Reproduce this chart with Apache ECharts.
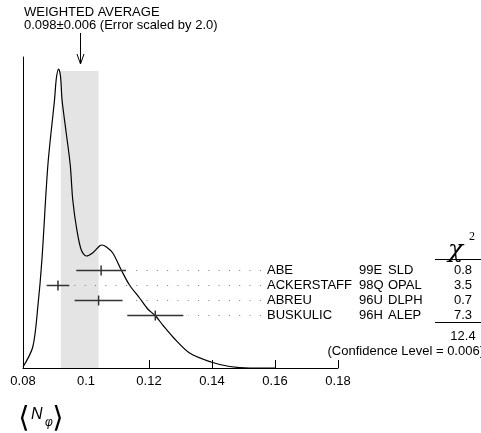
<!DOCTYPE html>
<html>
<head>
<meta charset="utf-8">
<script src="https://cdn.jsdelivr.net/npm/echarts@6/dist/echarts.min.js"></script>
<style>
html,body{margin:0;padding:0;background:#fff;}
#chart{width:481px;height:433px;}
</style>
</head>
<body>
<div id="chart"></div>
<script>
// ---- data ----
const xMin = 0.08, xMax = 0.18, xStep = 0.02;
const curveX = [0.0800,0.0831,0.0847,0.0860,0.0879,0.0900,0.0906,0.0913,0.0919,0.0924,0.0936,0.0950,0.0958,0.0971,0.0985,0.1001,0.1021,0.1043,0.1051,0.1065,0.1085,0.1112,0.1138,0.1170,0.1196,0.1221,0.1246,0.1276,0.1329,0.1397,0.1456,0.1519,0.1600];
const curveY = [1,21,61,108,203,268,290,299,292,268,238,203,168,138,118,112,115,122,123,121,115,98,83,70,59,52,42,31,15,6,1.5,0,0];
const names = ['ABE','ACKERSTAFF','ABREU','BUSKULIC'];
const refs = ['99E','98Q','96U','96H'];
const experiments = ['SLD','OPAL','DLPH','ALEP'];
const values = [0.1048, 0.0911, 0.1040, 0.1220];
const errors = [0.0079, 0.0036, 0.0076, 0.0089];
const chi2 = ['0.8','3.5','0.7','7.3'];
const chi2Sum = '12.4';
const confLevel = '0.006';
const avg = 0.098, avgErr = 0.006, errScale = 2.0;
const bandTop = 297;
const dotEndX = 0.1555;

const FONT = "'Liberation Sans', Arial, Helvetica, sans-serif";
const chart = echarts.init(document.getElementById('chart'), null, {renderer: 'canvas'});

const measData = values.map((v, i) => [v, errors[i], 14 + i]);

function renderBand(params, api) {
  const lo = api.coord([api.value(0) - api.value(1), 0]);
  const hi = api.coord([api.value(0) + api.value(1), api.value(2)]);
  const c = api.coord([api.value(0), 0]);
  const top = params.coordSys.y;
  const x = Math.round(c[0]) + 0.5;
  return {
    type: 'group',
    children: [
      {type: 'rect', shape: {x: lo[0], y: hi[1], width: hi[0] - lo[0], height: lo[1] - hi[1]},
       style: {fill: '#e4e4e4'}},
      {type: 'line', shape: {x1: x, y1: top - 24, x2: x, y2: top + 7},
       style: {stroke: '#000', lineWidth: 1}},
      {type: 'polyline', shape: {points: [[x - 3.5, top - 3], [x, top + 7], [x + 3.5, top - 3]]},
       style: {stroke: '#000', lineWidth: 1, fill: null}}
    ]
  };
}

function renderMeas(params, api) {
  const i = params.dataIndex;
  const v = api.value(0), e = api.value(1), r = api.value(2);
  const c = api.coord([v, r]);
  const lo = api.coord([v - e, r]);
  const hi = api.coord([v + e, r]);
  const end = api.coord([dotEndX, r]);
  const y = Math.round(c[1]) + 0.5;
  const tf = '13px ' + FONT;
  return {
    type: 'group',
    children: [
      {type: 'line', shape: {x1: end[0], y1: y, x2: hi[0] + 5, y2: y},
       style: {stroke: '#777', lineWidth: 1, lineDash: [1, 9.3]}},
      {type: 'line', shape: {x1: lo[0], y1: y, x2: hi[0], y2: y},
       style: {stroke: '#333', lineWidth: 1.5}},
      {type: 'line', shape: {x1: c[0], y1: y - 5, x2: c[0], y2: y + 5},
       style: {stroke: '#333', lineWidth: 1.5}},
      {type: 'text', x: 267, y: y, style: {text: names[i], font: tf, fill: '#000', textAlign: 'left', textVerticalAlign: 'middle'}},
      {type: 'text', x: 359, y: y, style: {text: refs[i], font: tf, fill: '#000', textAlign: 'left', textVerticalAlign: 'middle'}},
      {type: 'text', x: 388, y: y, style: {text: experiments[i], font: tf, fill: '#000', textAlign: 'left', textVerticalAlign: 'middle'}},
      {type: 'text', x: 463, y: y, style: {text: chi2[i], font: tf, fill: '#000', textAlign: 'center', textVerticalAlign: 'middle'}}
    ]
  };
}

const option = {
  animation: false,
  backgroundColor: '#fff',
  grid: {left: 23, right: 143, top: 57, bottom: 65},
  xAxis: {
    type: 'value', min: xMin, max: xMax, interval: xStep,
    axisLine: {show: true, lineStyle: {color: '#000', width: 1}},
    axisTick: {show: true, inside: true, length: 8, lineStyle: {color: '#000', width: 1}},
    axisLabel: {color: '#000', fontSize: 13, fontFamily: FONT, margin: 7},
    splitLine: {show: false}
  },
  yAxis: [
    {type: 'value', min: 0, max: 311,
     axisLine: {show: true, lineStyle: {color: '#000', width: 1}},
     axisTick: {show: false}, axisLabel: {show: false}, splitLine: {show: false}},
    {type: 'value', min: 0, max: 311 / 15.2, inverse: true, show: false}
  ],
  series: [
    {type: 'custom', renderItem: renderBand, data: [[avg, avgErr, bandTop]], z: 1, silent: true},
    {type: 'line', data: curveX.map((x, i) => [x, curveY[i]]), yAxisIndex: 0,
     showSymbol: false, smooth: 0.3, z: 3, silent: true,
     lineStyle: {color: '#000', width: 1.2}},
    {type: 'custom', renderItem: renderMeas, data: measData, yAxisIndex: 1, z: 4, silent: true,
     encode: {x: 0, y: 2}}
  ],
  graphic: [
    {type: 'text', left: 24, top: 6, style: {text: 'WEIGHTED AVERAGE', font: '13px ' + FONT, fill: '#000'}},
    {type: 'text', left: 24, top: 19, style: {text: avg.toFixed(3) + '±' + avgErr.toFixed(3) + ' (Error scaled by ' + errScale.toFixed(1) + ')', font: '13px ' + FONT, fill: '#000'}},
    {type: 'text', x: 448, y: 250, style: {text: 'χ', font: 'italic 25px "DejaVu Serif", "Liberation Serif", serif', fill: '#000', textAlign: 'left', textVerticalAlign: 'middle'}},
    {type: 'text', x: 469, y: 237, style: {text: '2', font: '12px "Liberation Serif", serif', fill: '#000', textAlign: 'left', textVerticalAlign: 'middle'}},
    {type: 'line', shape: {x1: 435, y1: 259.5, x2: 481, y2: 259.5}, style: {stroke: '#000', lineWidth: 1}},
    {type: 'line', shape: {x1: 435, y1: 322.5, x2: 481, y2: 322.5}, style: {stroke: '#000', lineWidth: 1}},
    {type: 'text', x: 463, y: 336, style: {text: chi2Sum, font: '13px ' + FONT, fill: '#000', textAlign: 'center', textVerticalAlign: 'middle'}},
    {type: 'text', x: 484, y: 351, style: {text: '(Confidence Level = ' + confLevel + ')', font: '13px ' + FONT, fill: '#000', textAlign: 'right', textVerticalAlign: 'middle'}},
    {type: 'text', x: 24, y: 419, style: {text: '⟨', font: '29px "DejaVu Sans", sans-serif', fill: '#000', textAlign: 'center', textVerticalAlign: 'middle'}},
    {type: 'text', x: 31, y: 415, style: {text: 'N', font: 'italic 16px ' + FONT, fill: '#000', textAlign: 'left', textVerticalAlign: 'middle'}},
    {type: 'text', x: 45, y: 423, style: {text: 'φ', font: 'italic 12px ' + FONT, fill: '#000', textAlign: 'left', textVerticalAlign: 'middle'}},
    {type: 'text', x: 58, y: 419, style: {text: '⟩', font: '29px "DejaVu Sans", sans-serif', fill: '#000', textAlign: 'center', textVerticalAlign: 'middle'}}
  ]
};
chart.setOption(option);
</script>
</body>
</html>
